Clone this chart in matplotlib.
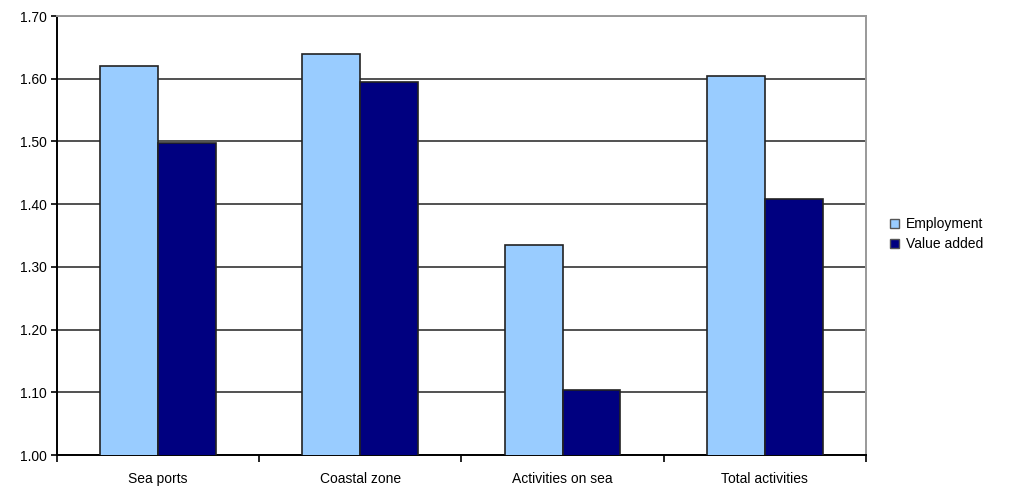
import matplotlib
matplotlib.use("Agg")
import matplotlib.pyplot as plt
import numpy as np

plt.rcParams['font.family'] = ['Liberation Sans', 'DejaVu Sans']

categories = ["Sea ports", "Coastal zone", "Activities on sea", "Total activities"]
employment = [1.62, 1.64, 1.335, 1.605]
value_added = [1.498, 1.594, 1.103, 1.408]
y_ticks = [1.00, 1.10, 1.20, 1.30, 1.40, 1.50, 1.60, 1.70]

fig = plt.figure(figsize=(10.16, 4.88), dpi=100)
ax = fig.add_axes([0.0558, 0.0676, 0.7966, 0.8996])

x = np.arange(len(categories))
w = 1 / 3.5
ax.bar(x - w / 2, employment, width=w, bottom=0, color="#99ccff",
       edgecolor="#222222", linewidth=1.2, label="Employment", zorder=3)
ax.bar(x + w / 2, value_added, width=w, bottom=0, color="#000080",
       edgecolor="#222222", linewidth=1.2, label="Value added", zorder=3)

ax.set_xlim(-0.5, len(categories) - 0.5)
ax.set_ylim(1.0, 1.7)
ax.set_yticks(y_ticks)
ax.set_yticklabels([f"{v:.2f}" for v in y_ticks], fontsize=10)
ax.yaxis.grid(True, color="#333333", linewidth=1.2, zorder=1)
ax.set_axisbelow(True)

# category labels centered, ticks on category boundaries
ax.set_xticks(x)
ax.set_xticklabels(categories, fontsize=10)
ax.tick_params(axis="x", length=0, pad=12)
ax.set_xticks(np.arange(-0.5, len(categories)), minor=True)
ax.tick_params(axis="x", which="minor", length=5, width=1.2, direction="out")
ax.tick_params(axis="y", length=4, width=1.2, direction="out", pad=3)

for side in ["left", "bottom"]:
    ax.spines[side].set_color("black")
    ax.spines[side].set_linewidth(1.4)
for side in ["top", "right"]:
    ax.spines[side].set_color("#999999")
    ax.spines[side].set_linewidth(1.4)

leg = ax.legend(loc="center left", bbox_to_anchor=(1.03, 0.503), frameon=False,
                fontsize=10, handlelength=0.6, handleheight=0.6,
                handletextpad=0.5, labelspacing=0.45,
                borderpad=0, borderaxespad=0)
for h in leg.legend_handles:
    h.set_edgecolor("#555555")
    h.set_linewidth(1.0)

fig.savefig("out.png", dpi=100)
